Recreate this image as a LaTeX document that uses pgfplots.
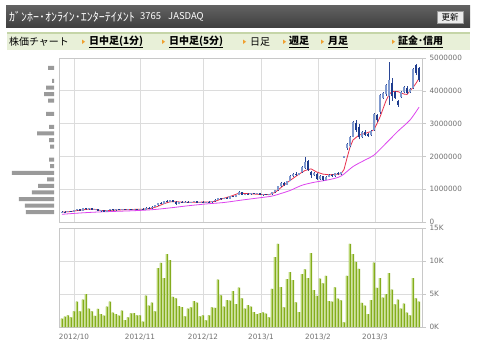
\documentclass[border=0pt]{standalone}
\usepackage{pgfplots}
\usepackage{pgfplotstable}
\pgfplotsset{compat=1.18}
\usepackage{fontspec}
\setmainfont{DejaVu Sans}
\newfontfamily\jp{Noto Sans CJK JP}
\definecolor{gridc}{HTML}{DCDCDC}
\definecolor{framec}{HTML}{C8C8C8}
\definecolor{tickc}{HTML}{707070}
\definecolor{upc}{HTML}{7F99CF}
\definecolor{dnc}{HTML}{1E3C8E}
\definecolor{wickc}{HTML}{2A4696}
\definecolor{ma1}{HTML}{E8304E}
\definecolor{ma2}{HTML}{DD44EE}
\definecolor{volc}{HTML}{84AC1E}
\definecolor{vollight}{HTML}{BAD773}
\definecolor{vpc}{HTML}{9A9A9A}
\definecolor{tabbg}{HTML}{E8F0D8}
\definecolor{tabline}{HTML}{C5D5A8}
\definecolor{arrowc}{HTML}{F0A030}

\pgfplotstableread{
i o h l c
0 290 330 280 320
1 320 335 290 295
2 295 340 290 335
3 335 350 305 310
4 310 370 305 365
5 365 390 345 385
6 385 390 340 345
7 345 430 340 420
8 420 435 380 385
9 385 425 375 420
10 420 425 365 370
11 370 400 355 395
12 395 400 325 335
13 335 365 315 360
14 360 365 315 320
15 320 370 315 365
16 365 395 345 390
17 390 395 350 355
18 355 400 350 395
19 395 405 360 365
20 365 405 360 400
21 400 405 360 365
22 365 400 360 395
23 395 405 365 370
24 370 400 365 395
25 395 405 370 375
26 375 410 370 405
27 405 415 375 380
28 380 445 375 435
29 435 455 410 415
30 415 475 410 465
31 465 515 455 505
32 505 590 495 575
33 575 625 545 550
34 550 645 545 630
35 630 685 600 605
36 605 670 600 660
37 660 665 600 605
38 605 630 525 545
39 545 625 540 615
40 615 635 580 585
41 585 630 580 625
42 625 630 580 585
43 585 620 575 615
44 615 645 600 630
45 630 635 585 590
46 590 625 585 620
47 620 630 585 590
48 590 620 585 615
49 615 630 590 595
50 595 645 590 640
51 640 690 625 680
52 680 745 660 730
53 730 745 685 695
54 695 735 690 730
55 730 770 700 705
56 705 795 700 785
57 785 805 750 760
58 760 835 755 825
59 825 960 815 905
60 905 925 820 830
61 830 865 815 860
62 860 890 830 840
63 840 895 835 880
64 880 890 840 845
65 845 890 840 880
66 880 885 815 825
67 825 855 805 850
68 850 865 815 820
69 820 850 810 845
70 845 910 835 900
71 900 980 885 965
72 965 1110 950 1085
73 1085 1230 1060 1190
74 1190 1210 1110 1130
75 1130 1265 1125 1245
76 1245 1420 1240 1400
77 1400 1500 1375 1470
78 1470 1520 1410 1430
79 1430 1500 1420 1490
80 1510 1700 1500 1680
81 1650 1990 1620 1830
82 1850 1880 1560 1600
83 1530 1560 1340 1420
84 1420 1520 1410 1490
85 1470 1490 1270 1310
86 1300 1420 1280 1400
87 1400 1410 1250 1280
88 1290 1400 1270 1380
89 1380 1470 1360 1440
90 1440 1460 1370 1400
91 1400 1500 1380 1480
92 1480 1510 1420 1450
93 1450 1530 1430 1510
94 1960 2000 1960 2000
95 2250 2420 2200 2380
96 2330 2620 2280 2580
97 2600 3080 2580 3050
98 3020 3100 2750 2800
99 2900 2980 2520 2580
100 2600 2780 2560 2740
101 2740 2790 2620 2660
102 2680 2720 2590 2620
103 2640 2820 2620 2780
104 2800 3320 2780 3290
105 3260 3300 3050 3100
106 3350 3900 3300 3870
107 3780 3950 3750 3920
108 3900 4200 3850 4170
109 3850 4890 3560 4320
110 4230 4380 3700 3830
111 3970 4000 3750 3780
112 3700 3720 3520 3580
113 3800 3990 3780 3960
114 3960 4150 3940 4110
115 4100 4140 3900 3940
116 3960 4080 3940 4050
117 4080 4700 4050 4660
118 4780 4830 4480 4550
119 4700 4740 4280 4330
}\candles

\pgfplotstableread{
i v
0 1.26
1 1.57
2 1.77
3 1.46
4 2.37
5 3.84
6 2.37
7 4.14
8 5.0
9 2.78
10 2.37
11 1.67
12 2.73
13 1.97
14 1.72
15 3.08
16 3.84
17 2.17
18 1.97
19 1.72
20 2.47
21 1.06
22 1.46
23 2.07
24 2.12
25 1.77
26 1.77
27 0.81
28 4.75
29 3.23
30 3.69
31 2.37
32 8.94
33 9.7
34 7.42
35 11.06
36 10.15
37 4.55
38 4.34
39 3.18
40 3.0
41 1.62
42 2.78
43 2.98
44 3.94
45 3.69
46 1.62
47 1.77
48 1.01
49 1.77
50 2.98
51 2.88
52 7.17
53 4.80
54 3.08
55 4.09
56 3.99
57 5.45
58 3.48
59 5.96
60 4.34
61 2.78
62 3.33
63 3.08
64 2.27
65 1.97
66 2.12
67 2.22
68 2.02
69 1.46
70 5.76
71 10.6
72 12.6
73 6.06
74 2.98
75 7.27
76 8.33
77 7.12
78 3.74
79 2.27
80 8.0
81 8.74
82 7.42
83 11.2
84 5.6
85 4.70
86 7.32
87 6.62
88 7.73
89 3.94
90 3.84
91 6.01
92 4.29
93 4.04
94 0.71
95 7.73
96 12.58
97 11.06
98 9.85
99 8.79
100 3.64
101 3.23
102 1.97
103 4.09
104 9.75
105 5.91
106 7.42
107 4.44
108 5.0
109 8.18
110 5.66
111 3.43
112 4.14
113 2.78
114 3.54
115 2.17
116 1.77
117 7.42
118 4.34
119 3.84
}\voldata

\begin{document}
\begin{tikzpicture}[x=1bp,y=1bp]
\useasboundingbox (0,0) rectangle (480,353);
\fill[white] (0,0) rectangle (480,353);
% header bar
\shade[top color=black!62, bottom color=black!75] (6,326) rectangle (470,347);
\node[anchor=west, text=white, inner sep=0pt] at (9,336.5) {\jp\fontsize{12}{13}\selectfont ｶﾞﾝﾎｰ･ｵﾝﾗｲﾝ･ｴﾝﾀｰﾃｲﾒﾝﾄ};
\node[anchor=west, text=white, inner sep=0pt] at (140,336.5) {\jp\fontsize{9.5}{11}\selectfont 3765};
\node[anchor=west, text=white, inner sep=0pt] at (168,336.5) {\jp\fontsize{9.5}{11}\selectfont JASDAQ};
\fill[black!8, draw=black!40, line width=0.5bp] (437,330) rectangle (463,342);
\node[inner sep=0pt] at (450,336) {\jp\fontsize{8.5}{9}\selectfont 更新};
% tab bar
\fill[tabbg] (7,303) rectangle (470,320);
\draw[tabline, line width=1.2bp] (7,320) -- (470,320);
\node[anchor=west, inner sep=0pt] at (9,311) {\jp\fontsize{10}{11}\selectfont 株価チャート};
\foreach \ax in {82,162,243,283,321,392}{
  \fill[arrowc] (\ax,309) -- (\ax,313.5) -- (\ax+3,311.25) -- cycle;}
\node[anchor=west, inner sep=0pt] at (89,311) {\jp\fontsize{10}{11}\selectfont\bfseries\underline{日中足(1分)}};
\node[anchor=west, inner sep=0pt] at (169,311) {\jp\fontsize{10}{11}\selectfont\bfseries\underline{日中足(5分)}};
\node[anchor=west, inner sep=0pt] at (250,311) {\jp\fontsize{10}{11}\selectfont 日足};
\node[anchor=west, inner sep=0pt] at (289,311) {\jp\fontsize{10}{11}\selectfont\bfseries\underline{週足}};
\node[anchor=west, inner sep=0pt] at (328,311) {\jp\fontsize{10}{11}\selectfont\bfseries\underline{月足}};
\node[anchor=west, inner sep=0pt] at (398,311) {\jp\fontsize{10}{11}\selectfont\bfseries\underline{証金･信用}};

% volume-at-price profile
\begin{axis}[at={(12bp,131bp)}, anchor=south west, scale only axis,
  width=42bp, height=164bp, xmin=0, xmax=42, ymin=0, ymax=5000,
  x dir=reverse, hide axis, clip=false]
\addplot[xbar, bar width=4bp, bar shift=0pt, fill=vpc, draw=none] coordinates {
(6,4700) (2,4300) (8,4100) (10,3900) (6,3700) (8,3300) (5,2900) (17,2700)
(5,2500) (4,2300) (5,1900) (4,1700) (42,1500) (7,1300) (16,1100) (22,900)
(35,700) (29,500) (28,300)};
\end{axis}

% price panel
\begin{axis}[at={(59bp,131bp)}, anchor=south west, scale only axis,
  width=363bp, height=164bp, xmin=-1, xmax=120, ymin=0, ymax=5000,
  axis line style={framec, line width=0.8bp},
  xtick={4,26,47,66.33,85.33,104.33}, xticklabels={},
  ytick={0,1000,2000,3000,4000,5000},
  yticklabels={0,1000000,2000000,3000000,4000000,5000000},
  ytick pos=right, yticklabel pos=right,
  tick align=outside, major tick length=4bp,
  xtick style={draw=none}, ytick style={framec, line width=0.6bp},
  grid=major, major grid style={gridc, line width=0.8bp},
  yticklabel style={font=\fontsize{7.3}{8}\selectfont, text=tickc}]
\addplot[ma2, line width=0.8bp, smooth] coordinates {
(0,235) (6,275) (12,305) (18,325) (24,345) (30,375) (36,430) (42,495) (48,550)
(54,595) (60,670) (66,740) (70,790) (73,870) (76,960) (80,1120) (84,1210)
(89,1290) (93,1400) (97,1690) (101,1890) (104,2040) (108,2400) (112,2770)
(116,3110) (119,3500)};
\addplot[ma1, line width=0.8bp] coordinates {
(0,300) (3,320) (6,360) (9,395) (11,385) (13,350) (15,345) (17,360) (20,372)
(23,382) (26,388) (28,395) (30,420) (32,480) (34,560) (36,615) (38,620)
(40,605) (43,600) (46,605) (49,608) (51,630) (53,700) (55,750) (57,810)
(59,880) (61,870) (63,860) (66,840) (69,835) (71,900) (73,1050) (75,1200)
(77,1330) (79,1460) (81,1570) (83,1620) (85,1520) (87,1460) (89,1440)
(91,1450) (93,1470) (94,1600) (95,1950) (96,2280) (97,2500) (99,2650)
(101,2700) (103,2760) (104,2820) (105,3000) (106,3200) (107,3450) (108,3700)
(109,3880) (110,3980) (112,3975) (114,3900) (115,3890) (116,4000) (117,4100)
(118,4230) (119,4380)};
\addplot[draw=none, mark=none, error bars/.cd, y dir=plus, y explicit, error mark=none,
  error bar style={draw=wickc, line width=0.7bp}]
  table[x=i, y=l, y error expr=\thisrow{h}-\thisrow{l}] \candles;
\addplot[draw=none, mark=none, error bars/.cd, y dir=plus, y explicit, error mark=none,
  error bar style={draw=upc, line width=2.2bp}]
  table[x=i, y=o, y error expr={max(\thisrow{c}-\thisrow{o},0)}] \candles;
\addplot[draw=none, mark=none, error bars/.cd, y dir=plus, y explicit, error mark=none,
  error bar style={draw=dnc, line width=2.2bp}]
  table[x=i, y=c, y error expr={max(\thisrow{o}-\thisrow{c},0)}] \candles;
\end{axis}

% volume panel
\begin{axis}[at={(59bp,26bp)}, anchor=south west, scale only axis,
  width=363bp, height=99bp, xmin=-1, xmax=120, ymin=0, ymax=15,
  axis line style={framec, line width=0.8bp},
  xtick={4,26,47,66.33,85.33,104.33},
  xticklabels={2012/10,2012/11,2012/12,2013/1,2013/2,2013/3},
  ytick={0,5,10,15}, yticklabels={0K,5K,10K,15K},
  ytick pos=right, yticklabel pos=right,
  tick align=outside, major tick length=4bp,
  xtick style={draw=none}, ytick style={framec, line width=0.6bp},
  grid=major, major grid style={gridc, line width=0.8bp},
  yticklabel style={font=\fontsize{7.3}{8}\selectfont, text=tickc},
  xticklabel style={font=\fontsize{7.3}{8}\selectfont, text=tickc}]
\addplot[ybar, bar width=2.1bp, bar shift=0pt, fill=volc, draw=none] table[x=i, y=v] \voldata;
\addplot[ybar, bar width=0.8bp, bar shift=-0.65bp, fill=vollight, draw=none] table[x=i, y=v] \voldata;
\end{axis}
\end{tikzpicture}
\end{document}
